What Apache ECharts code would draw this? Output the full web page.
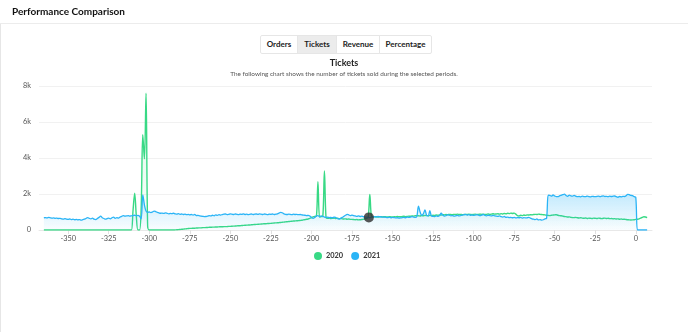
<!DOCTYPE html>
<html>
<head>
<meta charset="utf-8">
<script src="https://cdn.jsdelivr.net/npm/echarts@6/dist/echarts.min.js"></script>
<style>
  html, body { margin: 0; padding: 0; background: #fff; }
  body { width: 688px; height: 332px; position: relative; overflow: hidden; font-family: Lato, "Open Sans", sans-serif; }
  #chart { position: absolute; left: 0; top: 0; width: 688px; height: 332px; }
  #header { position: absolute; left: 0; top: 0; width: 688px; height: 24px; border-bottom: 1px solid #ececec; box-sizing: border-box; z-index: 2; }
  #header span { position: absolute; left: 12px; top: 4px; font-size: 10px; font-weight: 700; color: #111; line-height: 14px; }
  #leftborder { position: absolute; left: 0; top: 24px; width: 1px; height: 308px; background: #e6e6e6; z-index: 2; }
  .btn { position: absolute; top: 35px; height: 19px; box-sizing: border-box; border: 1px solid #e6e6e6; font-size: 8px; font-weight: 700; color: #222; line-height: 17px; text-align: center; background: #fff; z-index: 2; }
  .btn.active { background: #ececec; }
</style>
</head>
<body>
<div id="chart"></div>
<div id="header"><span>Performance Comparison</span></div>
<div id="leftborder"></div>
<div class="btn" style="left:260px;width:38px;border-radius:2px 0 0 2px;">Orders</div>
<div class="btn active" style="left:297px;width:40px;">Tickets</div>
<div class="btn" style="left:336px;width:44px;">Revenue</div>
<div class="btn" style="left:379px;width:53px;border-radius:0 2px 2px 0;">Percentage</div>
<script>
// ---- data (one value per day, starting at day -365, ending at day 7) ----
const firstDay = -365;
const xTickValues = [-350, -325, -300, -275, -250, -225, -200, -175, -150, -125, -100, -75, -50, -25, 0];
const seriesNames = ['2020', '2021'];

const tickets2020 = [
  0,0,0,0,0,0,0,0,0,0,               // -365..-356
  0,0,0,0,0,0,0,0,0,0,               // -355..-346
  0,0,0,0,0,0,0,0,0,0,               // -345..-336
  0,0,0,0,0,0,0,0,0,0,               // -335..-326
  0,0,0,0,0,0,0,0,0,0,               // -325..-316
  0,0,0,0,0,1100,2050,800,0,0,       // -315..-306
  1200,5300,3950,7600,200,0,0,0,0,0, // -305..-296
  0,0,0,0,0,0,0,0,0,0,               // -295..-286
  0,5,10,20,30,40,50,60,70,80,       // -285..-276
  90,90,100,100,110,110,120,120,130,130, // -275..-266
  140,140,150,150,160,160,165,170,175,180, // -265..-256
  180,185,185,190,200,200,210,215,220,230, // -255..-246
  235,240,250,255,260,270,275,280,290,300, // -245..-236
  305,310,320,325,330,340,345,350,360,365, // -235..-226
  370,380,390,395,400,410,420,430,440,450, // -225..-216
  460,470,480,490,500,505,510,520,530,540, // -215..-206
  560,575,595,610,640,690,730,750,760,2690, // -205..-196
  720,740,760,3280,680,650,660,640,650,660, // -195..-186
  640,650,630,640,620,610,620,600,610,590, // -185..-176
  590,580,570,580,560,570,580,600,620,650, // -175..-166
  700,1980,760,740,730,740,720,730,740,730, // -165..-156
  740,730,720,740,730,720,740,730,750,740, // -155..-146
  740,750,760,740,750,770,760,780,770,790, // -145..-136
  800,790,780,800,790,810,800,790,810,800, // -135..-126
  820,810,830,820,840,830,850,840,860,850, // -125..-116
  870,860,850,870,860,880,860,870,850,860, // -115..-106
  870,860,880,870,850,870,880,860,870,880, // -105..-96
  870,880,860,870,890,870,880,900,880,890, // -95..-86
  900,880,910,890,920,900,930,910,940,920, // -85..-76
  940,880,800,780,820,800,830,810,840,830, // -75..-66
  850,840,860,870,860,880,870,860,850,840, // -65..-56
  820,810,800,820,830,840,850,820,800,790, // -55..-46
  770,750,740,720,730,700,690,685,700,680, // -45..-36
  670,680,660,650,670,640,660,650,640,660, // -35..-26
  650,640,660,650,630,650,660,640,650,630, // -25..-16
  640,620,630,610,620,600,610,590,600,580, // -15..-6
  570,560,555,560,570,590,600,620,660,700, // -5..4
  740,720,685                               // 5..7
];

const tickets2021 = [
  680,690,670,700,680,660,670,650,660,640, // -365..-356
  650,620,600,630,600,590,610,580,600,570, // -355..-346
  590,560,580,550,570,600,640,690,650,620, // -345..-336
  660,600,580,640,700,770,680,640,600,630, // -335..-326
  660,620,680,710,650,690,660,720,760,800, // -325..-316
  770,780,800,770,790,800,820,790,810,760, // -315..-306
  620,1950,1400,1050,980,1000,970,1000,1050,1020, // -305..-296
  980,950,930,940,920,950,930,900,920,910, // -295..-286
  930,900,880,910,870,890,860,880,850,870, // -285..-276
  840,860,830,870,800,810,790,770,760,740, // -275..-266
  750,770,800,780,820,790,840,810,850,830, // -265..-256
  860,880,890,850,870,900,880,860,890,870, // -255..-246
  850,880,870,900,860,880,850,870,890,860, // -245..-236
  880,890,870,900,880,860,890,870,850,880, // -235..-226
  870,890,860,880,900,940,980,960,900,870, // -225..-216
  860,880,870,850,880,860,870,850,860,840, // -215..-206
  830,820,800,810,780,700,650,700,780,800, // -205..-196
  740,780,760,720,700,710,690,700,680,720, // -195..-186
  690,640,610,650,700,760,820,870,840,800, // -185..-176
  830,800,780,760,790,750,770,740,720,710, // -175..-166
  700,690,710,730,740,720,750,740,730,710, // -165..-156
  720,700,690,710,680,700,690,670,680,660, // -155..-146
  670,690,700,680,720,700,710,740,720,700, // -145..-136
  760,1330,1000,820,900,1110,820,780,1070,780, // -135..-126
  760,740,780,760,800,930,830,770,800,850, // -125..-116
  820,790,800,770,790,810,780,800,820,850, // -115..-106
  860,830,850,820,840,810,830,850,820,800, // -105..-96
  830,860,810,790,820,800,780,810,790,770, // -95..-86
  760,780,740,720,750,700,720,690,700,680, // -85..-76
  700,670,690,680,700,660,690,670,680,700, // -75..-66
  660,620,600,580,610,560,580,550,570,620, // -65..-56
  650,1940,1920,1880,1950,1890,1860,1850,1900,1930, // -55..-46
  1960,1990,1920,1870,1940,1900,1880,1920,1880,1850, // -45..-36
  1870,1840,1880,1860,1850,1880,1860,1840,1870,1860, // -35..-26
  1850,1870,1880,1850,1880,1900,1860,1870,1850,1880, // -25..-16
  1860,1880,1890,1850,1820,1860,1840,1870,1860,1900, // -15..-6
  1980,1960,1920,1910,1850,1820,0,0,0,0,   // -5..4
  0,0,0                                     // 5..7
];

const highlightPoint = [-164.6, 700];

// ---- build chart ----
const days = tickets2020.map((_, i) => firstDay + i);
const pairs = (vals) => vals.map((v, i) => [days[i], v]);

const green = '#38d985';
const blue = '#2ab4f6';

const chart = echarts.init(document.getElementById('chart'), null, { renderer: 'canvas' });
chart.setOption({
  animation: false,
  title: {
    text: 'Tickets',
    subtext: 'The following chart shows the number of tickets sold during the selected periods.',
    left: 'center',
    top: 59,
    padding: 0,
    itemGap: 3,
    textStyle: { fontFamily: 'Lato', fontSize: 9, fontWeight: 700, color: '#222' },
    subtextStyle: { fontFamily: 'Lato', fontSize: 6.4, color: '#555' }
  },
  legend: {
    data: seriesNames,
    bottom: 67,
    left: 309,
    icon: 'circle',
    itemWidth: 8,
    itemHeight: 8,
    itemGap: 8,
    textStyle: { fontFamily: 'Lato', fontSize: 7.4, fontWeight: 700, color: '#333', padding: [0, 0, 0, -1] }
  },
  grid: { left: 39, right: 36, top: 86, bottom: 102, containLabel: false },
  xAxis: {
    type: 'value',
    min: -368,
    max: 10,
    splitLine: { show: false },
    axisLine: { show: true, lineStyle: { color: '#e8e8e8' } },
    axisTick: { show: true, customValues: xTickValues, length: 4, lineStyle: { color: '#e0e0e0' } },
    axisLabel: { customValues: xTickValues, margin: 5, fontFamily: 'Lato', fontSize: 7.4, color: '#555' }
  },
  yAxis: {
    type: 'value',
    min: 0,
    max: 8000,
    interval: 2000,
    axisLine: { show: false },
    axisTick: { show: false },
    splitLine: { lineStyle: { color: '#f1f1f1' } },
    axisLabel: {
      margin: 8, fontFamily: 'Lato', fontSize: 7.4, color: '#555',
      formatter: (v) => v === 0 ? '0' : (v / 1000) + 'k'
    }
  },
  series: [
    {
      name: seriesNames[0],
      type: 'line',
      data: pairs(tickets2020),
      smooth: 0.35,
      showSymbol: false,
      lineStyle: { color: green, width: 1.4 },
      itemStyle: { color: green },
      areaStyle: {
        color: new echarts.graphic.LinearGradient(0, 0, 0, 1, [
          { offset: 0, color: 'rgba(56,217,133,0.30)' },
          { offset: 1, color: 'rgba(56,217,133,0.0)' }
        ])
      },
      z: 2
    },
    {
      name: seriesNames[1],
      type: 'line',
      data: pairs(tickets2021),
      smooth: 0.35,
      showSymbol: false,
      lineStyle: { color: blue, width: 1.3 },
      itemStyle: { color: blue },
      areaStyle: {
        color: new echarts.graphic.LinearGradient(0, 0, 0, 1, [
          { offset: 0, color: 'rgba(42,180,246,0.40)' },
          { offset: 1, color: 'rgba(42,180,246,0.04)' }
        ])
      },
      z: 3
    },
    {
      name: 'hover',
      type: 'scatter',
      data: [highlightPoint],
      symbolSize: 10,
      itemStyle: { color: '#2d2d2d' },
      z: 5
    }
  ]
});
</script>
</body>
</html>
